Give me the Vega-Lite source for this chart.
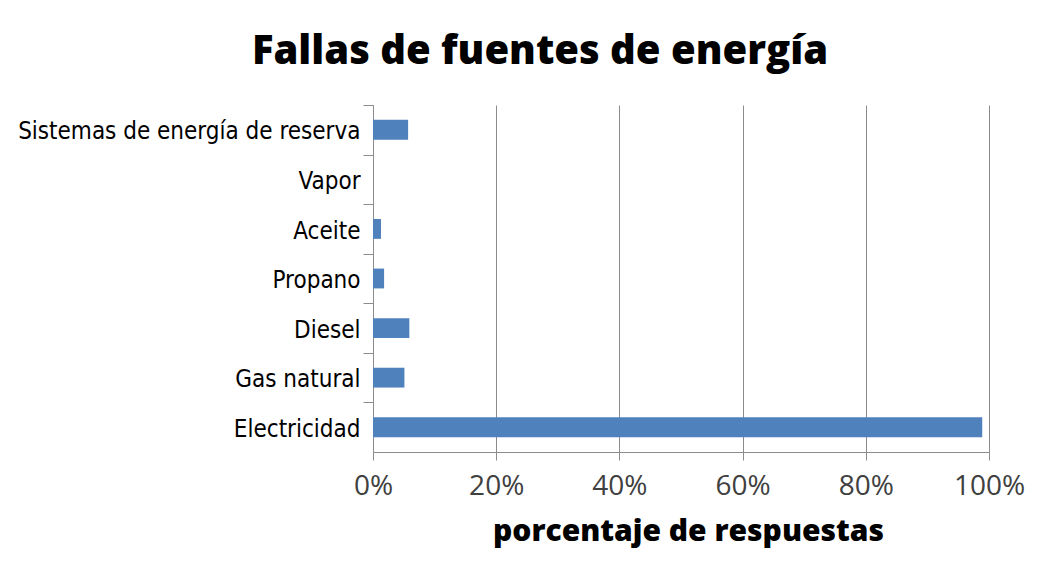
{
  "$schema": "https://vega.github.io/schema/vega-lite/v6.json",
  "autosize": "none",
  "width": 616,
  "height": 347,
  "padding": {"left": 373, "top": 105, "right": 68, "bottom": 130},
  "background": "white",
  "title": {
    "text": "Fallas de fuentes de energía",
    "font": "Open Sans",
    "fontWeight": 800,
    "fontSize": 40,
    "color": "black",
    "anchor": "middle",
    "dx": -141,
    "offset": 33
  },
  "data": {
    "values": [
      {"fuente": "Sistemas de energía de reserva", "pct": 0.057},
      {"fuente": "Vapor", "pct": 0.0},
      {"fuente": "Aceite", "pct": 0.013},
      {"fuente": "Propano", "pct": 0.018},
      {"fuente": "Diesel", "pct": 0.059},
      {"fuente": "Gas natural", "pct": 0.051},
      {"fuente": "Electricidad", "pct": 0.989}
    ]
  },
  "mark": {"type": "bar", "color": "#4F81BD"},
  "encoding": {
    "y": {
      "field": "fuente",
      "type": "nominal",
      "sort": null,
      "scale": {"paddingInner": 0.6, "paddingOuter": 0.3},
      "axis": {
        "title": null,
        "labelFont": "DejaVu Sans Condensed",
        "labelFontSize": 24,
        "labelColor": "black",
        "labelPadding": 3,
        "labelLimit": 400,
        "tickSize": 10,
        "tickColor": "#8c8c8c",
        "tickOffset": -24.8,
        "labelOffset": 27,
        "domainColor": "#8c8c8c",
        "grid": false
      }
    },
    "x": {
      "field": "pct",
      "type": "quantitative",
      "scale": {"domain": [0, 1], "nice": false},
      "axis": {
        "title": "porcentaje de respuestas",
        "titleFont": "Open Sans",
        "titleFontWeight": 800,
        "titleFontSize": 30,
        "titleColor": "black",
        "titlePadding": 16,
        "titleX": 315,
        "format": ".0%",
        "values": [0, 0.2, 0.4, 0.6, 0.8, 1],
        "labelFont": "Open Sans",
        "labelFontSize": 28,
        "labelColor": "#404040",
        "labelPadding": 12,
        "labelFlush": false,
        "tickSize": 8,
        "tickColor": "#8c8c8c",
        "domainColor": "#8c8c8c",
        "grid": true,
        "gridColor": "#8c8c8c",
        "gridWidth": 1
      }
    }
  },
  "config": {"view": {"stroke": null}}
}
